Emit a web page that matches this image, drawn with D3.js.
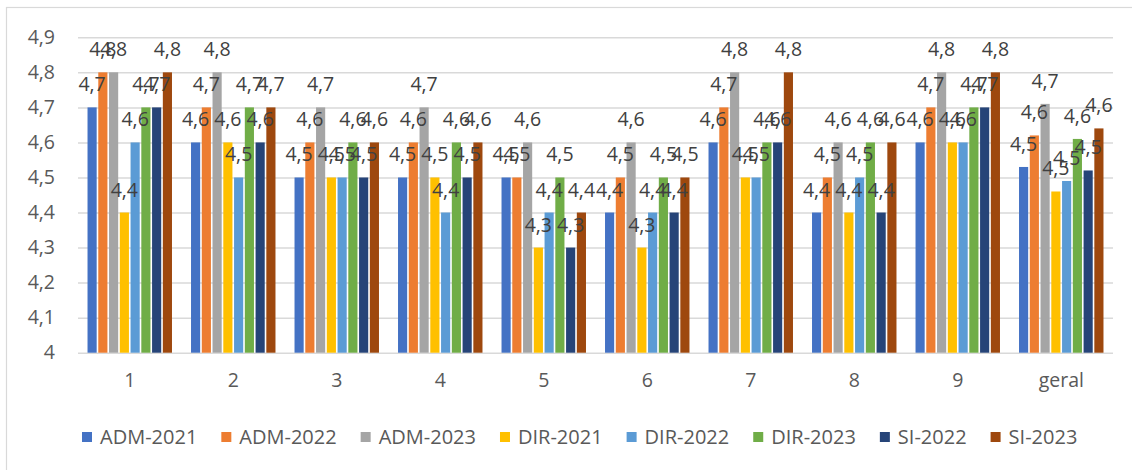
<!DOCTYPE html>
<html>
<head>
<meta charset="utf-8">
<script src="https://cdn.jsdelivr.net/npm/d3@7"></script>
<style>
  body { margin: 0; background: #fff; }
  text { font-family: "Open Sans", sans-serif; }
</style>
</head>
<body>
<div class="chart"></div>
<script>
(function() {
	var width = 1132,
		height = 470;

	var categories = ["1", "2", "3", "4", "5", "6", "7", "8", "9", "geral"];
	var seriesNames = ["ADM-2021", "ADM-2022", "ADM-2023", "DIR-2021", "DIR-2022", "DIR-2023", "SI-2022", "SI-2023"];
	var colors = ["#4472C4", "#ED7D31", "#A5A5A5", "#FFC000", "#5B9BD5", "#70AD47", "#264478", "#9E480E"];

	// one array per series, one value per category
	var adm2021 = [4.7, 4.6, 4.5, 4.5, 4.5, 4.4, 4.6, 4.4, 4.6, 4.53];
	var adm2022 = [4.8, 4.7, 4.6, 4.6, 4.5, 4.5, 4.7, 4.5, 4.7, 4.62];
	var adm2023 = [4.8, 4.8, 4.7, 4.7, 4.6, 4.6, 4.8, 4.6, 4.8, 4.71];
	var dir2021 = [4.4, 4.6, 4.5, 4.5, 4.3, 4.3, 4.5, 4.4, 4.6, 4.46];
	var dir2022 = [4.6, 4.5, 4.5, 4.4, 4.4, 4.4, 4.5, 4.5, 4.6, 4.49];
	var dir2023 = [4.7, 4.7, 4.6, 4.6, 4.5, 4.5, 4.6, 4.6, 4.7, 4.61];
	var si2022 = [4.7, 4.6, 4.5, 4.5, 4.3, 4.4, 4.6, 4.4, 4.7, 4.52];
	var si2023 = [4.8, 4.7, 4.6, 4.6, 4.4, 4.5, 4.8, 4.6, 4.8, 4.64];

	var yTicks = [4, 4.1, 4.2, 4.3, 4.4, 4.5, 4.6, 4.7, 4.8, 4.9];

	var seriesValues = [adm2021, adm2022, adm2023, dir2021, dir2022, dir2023, si2022, si2023];

	var left = 78,
		right = 1113,
		top = 37.3,
		bottom = 352.7;

	var comma = function(v) { return d3.format(".1f")(v).replace(".", ","); };

	var svg = d3.select(".chart").append("svg")
		.attr("width", width)
		.attr("height", height);

	// chart frame
	svg.append("rect")
		.attr("x", 6.5).attr("y", 7.5)
		.attr("width", 1140).attr("height", 480)
		.attr("fill", "none")
		.attr("stroke", "#d9d9d9")
		.attr("stroke-width", 1.2);

	var x0 = d3.scaleBand()
		.domain(categories)
		.range([left, right])
		.paddingInner(0.184)
		.paddingOuter(0.092);

	var x1 = d3.scaleBand()
		.domain(seriesNames)
		.range([0, x0.bandwidth()])
		.paddingInner(0.15)
		.paddingOuter(0);

	var y = d3.scaleLinear()
		.domain([4, 4.9])
		.range([bottom, top]);

	// gridlines
	var yAxis = d3.axisLeft(y)
		.tickValues(yTicks)
		.tickSize(-(right - left))
		.tickPadding(23)
		.tickFormat(function(d) { return d === 4 ? "4" : comma(d); });

	var gy = svg.append("g")
		.attr("transform", "translate(" + left + ",0)")
		.call(yAxis);
	gy.select(".domain").remove();
	gy.selectAll(".tick line")
		.attr("stroke", "#d9d9d9")
		.attr("stroke-width", 1.5);
	gy.selectAll(".tick text")
		.attr("fill", "#595959")
		.style("font-size", "19.5px")
		.style("font-family", "'Open Sans', sans-serif");

	var xAxis = d3.axisBottom(x0).tickSize(0).tickPadding(20);
	var gx = svg.append("g")
		.attr("transform", "translate(0," + bottom + ")")
		.call(xAxis);
	gx.select(".domain").remove();
	gx.selectAll(".tick text")
		.attr("fill", "#595959")
		.style("font-size", "19.5px")
		.style("font-family", "'Open Sans', sans-serif");

	var rows = categories.map(function(c, i) {
		return {
			cat: c,
			vals: seriesNames.map(function(s, j) {
				return { name: s, value: seriesValues[j][i], color: colors[j] };
			})
		};
	});

	var groups = svg.selectAll("g.group")
		.data(rows)
		.enter().append("g")
		.attr("class", "group")
		.attr("transform", function(d) { return "translate(" + x0(d.cat) + ",0)"; });

	groups.selectAll("rect")
		.data(function(d) { return d.vals; })
		.enter().append("rect")
		.attr("x", function(d) { return x1(d.name); })
		.attr("y", function(d) { return y(d.value); })
		.attr("width", x1.bandwidth())
		.attr("height", function(d) { return bottom - y(d.value); })
		.attr("fill", function(d) { return d.color; });

	groups.selectAll("text.lbl")
		.data(function(d) { return d.vals; })
		.enter().append("text")
		.attr("class", "lbl")
		.attr("x", function(d) { return x1(d.name) + x1.bandwidth() / 2; })
		.attr("y", function(d) { return y(d.value) - 16; })
		.attr("text-anchor", "middle")
		.attr("fill", "#404040")
		.style("font-size", "19.5px")
		.text(function(d) { return comma(d.value); });

	// legend
	var legend = svg.append("g").attr("class", "legend");
	var lx = 82;
	seriesNames.forEach(function(s, i) {
		legend.append("rect")
			.attr("x", lx).attr("y", 432)
			.attr("width", 10).attr("height", 10)
			.attr("fill", colors[i]);
		var t = legend.append("text")
			.attr("x", lx + 18).attr("y", 444)
			.attr("fill", "#595959")
			.style("font-size", "20px")
			.text(s);
		lx += 18 + t.node().getComputedTextLength() + 24;
	});
})();
</script>
</body>
</html>
